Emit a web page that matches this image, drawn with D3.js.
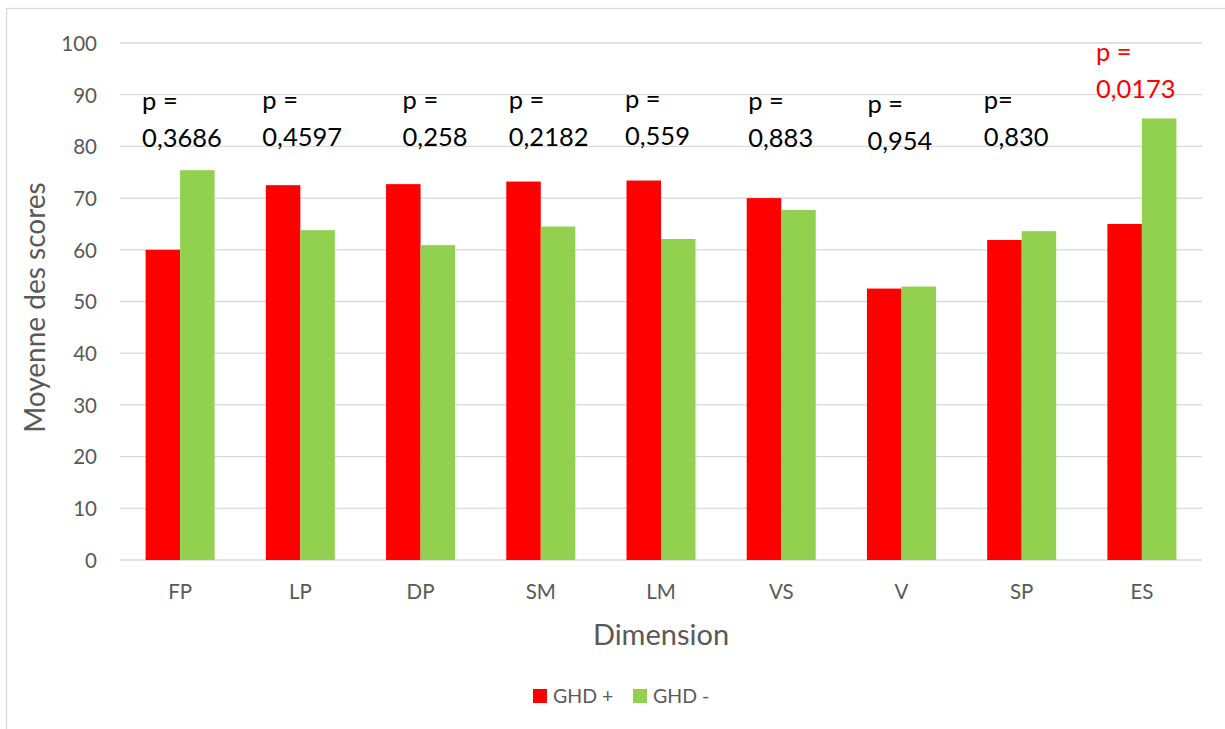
<!DOCTYPE html>
<html>
<head>
<meta charset="utf-8">
<script src="https://cdn.jsdelivr.net/npm/d3@7"></script>
<style>
  html, body { margin: 0; padding: 0; background: #fff; }
  svg { display: block; font-family: Lato, "Noto Sans", sans-serif; }
</style>
</head>
<body>
<svg id="chart" width="1225" height="729"></svg>
<script>
// Dimensions and mean scores for each group
const categories = ["FP", "LP", "DP", "SM", "LM", "VS", "V", "SP", "ES"];
const seriesNames = ["GHD +", "GHD -"];
const ghdPlus  = [60.0, 72.5, 72.7, 73.2, 73.4, 70.0, 52.5, 61.9, 65.0];
const ghdMinus = [75.4, 63.8, 60.9, 64.5, 62.1, 67.7, 52.9, 63.6, 85.4];
const pValues  = ["0,3686", "0,4597", "0,258", "0,2182", "0,559", "0,883", "0,954", "0,830", "0,0173"];
const pPrefix  = ["p =", "p =", "p =", "p =", "p =", "p =", "p =", "p=", "p ="];
const yTicks   = [0, 10, 20, 30, 40, 50, 60, 70, 80, 90, 100];

// Label placement tweaks (px) for the hand-placed p-value boxes
const pLabelDx = [-38, -38, -18, -32, -36, -33, -34, -38, -46];
const pLabelDy = [0, -1, -1, -1, -2, 0, 3, -1, 0];

const colors = { "GHD +": "#FF0000", "GHD -": "#92D050" };
const significant = 0.05;

const svg = d3.select("#chart");
const plotLeft = 120, plotRight = 1202, plotTop = 43, plotBottom = 560;

// chart frame
svg.append("rect")
  .attr("x", 6.5).attr("y", 8.5)
  .attr("width", 1240).attr("height", 760)
  .attr("fill", "none").attr("stroke", "#D9D9D9").attr("stroke-width", 1.3);

const y = d3.scaleLinear().domain([0, 100]).range([plotBottom, plotTop]);
const x0 = d3.scaleBand().domain(categories).range([plotLeft, plotRight])
  .paddingInner(0.426).paddingOuter(0.213);
const x1 = d3.scaleBand().domain(seriesNames).range([0, x0.bandwidth()]);

// gridlines
svg.append("g").selectAll("line").data(yTicks).join("line")
  .attr("x1", plotLeft).attr("x2", plotRight)
  .attr("y1", d => y(d)).attr("y2", d => y(d))
  .attr("stroke", "#D9D9D9").attr("stroke-width", 1.3);

// y axis tick labels
const yAxis = d3.axisLeft(y).tickValues(yTicks).tickSize(0).tickPadding(0);
const gy = svg.append("g").attr("transform", "translate(97,0)").call(yAxis);
gy.select(".domain").remove();
gy.selectAll("text")
  .attr("font-family", "Lato, sans-serif").attr("font-size", 20.5)
  .attr("fill", "#595959").attr("dy", "0.36em");

// x axis category labels
const xAxis = d3.axisBottom(x0).tickSize(0).tickPadding(0);
const gx = svg.append("g").attr("transform", "translate(0,599)").call(xAxis);
gx.select(".domain").remove();
gx.selectAll("text")
  .attr("font-family", "Lato, sans-serif").attr("font-size", 20.5)
  .attr("fill", "#595959").attr("dy", 0);

// bars
const rows = categories.map((c, i) => ({ cat: c, values: [ghdPlus[i], ghdMinus[i]] }));
const groups = svg.append("g").selectAll("g").data(rows).join("g")
  .attr("transform", d => `translate(${x0(d.cat)},0)`);
groups.selectAll("rect")
  .data(d => seriesNames.map((s, j) => ({ s, v: d.values[j] })))
  .join("rect")
  .attr("x", d => x1(d.s))
  .attr("width", x1.bandwidth())
  .attr("y", d => y(d.v))
  .attr("height", d => y(0) - y(d.v))
  .attr("fill", d => colors[d.s]);

// p-value labels
const ann = svg.append("g").selectAll("text").data(categories).join("text")
  .attr("font-family", "Lato, sans-serif").attr("font-size", 25.5)
  .attr("fill", (d, i) => parseFloat(pValues[i].replace(",", ".")) < significant ? "#FF0000" : "#000000")
  .attr("transform", (d, i) => {
    const cx = x0(d) + x0.bandwidth() / 2 + pLabelDx[i];
    const base = Math.min(y(Math.max(ghdPlus[i], ghdMinus[i])) - 20, 147) + pLabelDy[i];
    return `translate(${cx},${base})`;
  });
ann.append("tspan").attr("x", 0).attr("y", -37).text((d, i) => pPrefix[i]);
ann.append("tspan").attr("x", 0).attr("y", 0).text((d, i) => pValues[i]);

// axis titles
svg.append("text")
  .attr("x", (plotLeft + plotRight) / 2).attr("y", 645)
  .attr("text-anchor", "middle")
  .attr("font-family", "Lato, sans-serif").attr("font-size", 29)
  .attr("fill", "#595959").text("Dimension");

svg.append("text")
  .attr("transform", `translate(45,${(plotTop + plotBottom) / 2 + 6}) rotate(-90)`)
  .attr("text-anchor", "middle")
  .attr("font-family", "Lato, sans-serif").attr("font-size", 28)
  .attr("fill", "#595959").text("Moyenne des scores");

// legend
const legend = svg.append("g").selectAll("g").data(seriesNames).join("g")
  .attr("transform", (d, i) => `translate(${533 + i * 100},689)`);
legend.append("rect").attr("width", 14).attr("height", 14).attr("fill", d => colors[d]);
legend.append("text")
  .attr("x", 20).attr("y", 13.5)
  .attr("font-family", "Lato, sans-serif").attr("font-size", 19.5)
  .attr("fill", "#595959").text(d => d);
</script>
</body>
</html>
